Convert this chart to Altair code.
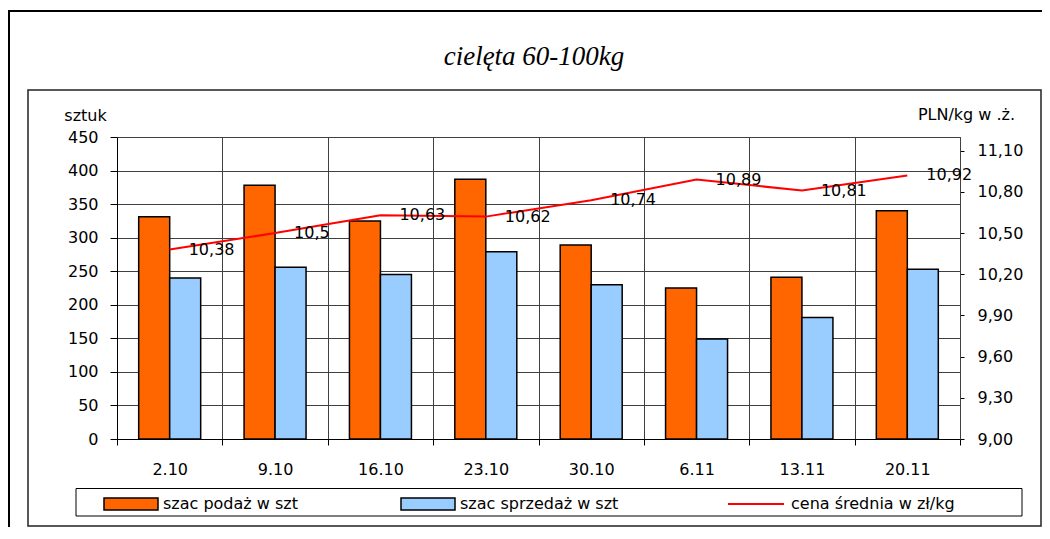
import altair as alt
import pandas as pd

weeks = ["2.10", "9.10", "16.10", "23.10", "30.10", "6.11", "13.11", "20.11"]
supply = [331, 378, 325, 387, 289, 225, 241, 340]
sales = [240, 256, 245, 279, 230, 149, 181, 253]
price = [10.38, 10.5, 10.63, 10.62, 10.74, 10.89, 10.81, 10.92]

left_ticks = [0, 50, 100, 150, 200, 250, 300, 350, 400, 450]
right_ticks = [9.0, 9.3, 9.6, 9.9, 10.2, 10.5, 10.8, 11.1]

s_supply = "szac podaż w szt"
s_sales = "szac sprzedaż w szt"
s_price = "cena średnia w zł/kg"
title_text = "cielęta 60-100kg"

bars_df = pd.DataFrame({
    "week": weeks * 2,
    "series": [s_supply] * len(weeks) + [s_sales] * len(weeks),
    "value": supply + sales,
})
line_df = pd.DataFrame({"week": weeks, "series": [s_price] * len(weeks), "price": price})
one = pd.DataFrame({"k": [0]})

FONT = "DejaVu Sans"

x_enc = alt.X(
    "week:N", sort=weeks,
    scale=alt.Scale(paddingInner=0, paddingOuter=0),
    axis=alt.Axis(title=None, labelAngle=0, tickBand="extent", grid=True,
                  gridColor="#404040", gridWidth=1, domainColor="#000000",
                  tickColor="#000000", tickSize=6, labelPadding=16,
                  labelFont=FONT, labelFontSize=16, labelColor="#000000"),
)

bars = alt.Chart(bars_df).mark_bar(stroke="black", strokeWidth=1.5).encode(
    x=x_enc,
    xOffset=alt.XOffset("series:N", sort=[s_supply, s_sales],
                        scale=alt.Scale(paddingInner=0, paddingOuter=0.7)),
    y=alt.Y("value:Q", scale=alt.Scale(domain=[0, 450], nice=False),
            axis=alt.Axis(values=left_ticks, title="sztuk", titleAngle=0,
                          titleX=-32, titleY=-17, titleAlign="center",
                          titleBaseline="alphabetic", titleFont=FONT,
                          titleFontSize=16, titleFontWeight="normal",
                          titleColor="#000000", grid=True, gridColor="#404040",
                          gridWidth=1, domainColor="#000000", tickColor="#000000",
                          tickSize=7, labelPadding=12, labelFont=FONT,
                          labelFontSize=16, labelColor="#000000")),
    fill=alt.Fill("series:N", sort=[s_supply, s_sales],
                  scale=alt.Scale(domain=[s_supply, s_sales],
                                  range=["#FF6600", "#99CCFF"]),
                  legend=alt.Legend(title=None, orient="none", legendX=-14,
                                    legendY=339, direction="horizontal",
                                    columns=2, columnPadding=100, padding=0,
                                    symbolType="M-1,-0.222H1V0.222H-1Z",
                                    symbolSize=2916, symbolStrokeColor="black",
                                    symbolStrokeWidth=1.5, labelFont=FONT,
                                    labelFontSize=16, labelColor="#000000",
                                    labelOffset=4, labelLimit=400)),
)

right_axis = alt.Axis(
    orient="right", values=right_ticks,
    labelExpr="replace(format(datum.value, '.2f'), '.', ',')",
    domain=True, domainColor="#404040", tickSize=4, tickColor="#000000",
    labelPadding=13, labelAlign="left", grid=False, labelFont=FONT,
    labelFontSize=16, labelColor="#000000", title="PLN/kg w .ż.",
    titleAngle=0, titleX=6, titleY=-18, titleAlign="center",
    titleBaseline="alphabetic", titleFont=FONT, titleFontSize=16,
    titleFontWeight="normal", titleColor="#000000",
)
right_scale = alt.Scale(domain=[9, 11.2], nice=False, zero=False)

line = alt.Chart(line_df).mark_line(strokeWidth=2).encode(
    x=alt.X("week:N", sort=weeks),
    y=alt.Y("price:Q", scale=right_scale, axis=right_axis),
    stroke=alt.Stroke("series:N", scale=alt.Scale(domain=[s_price], range=["#FF0000"]),
                      legend=alt.Legend(title=None, orient="none", legendX=610,
                                        legendY=338, padding=0,
                                        symbolType="M-1,0H1", symbolSize=3136,
                                        symbolStrokeWidth=2, labelFont=FONT,
                                        labelFontSize=16, labelColor="#000000",
                                        labelOffset=6, labelLimit=400)),
)

labels = alt.Chart(line_df).transform_calculate(
    lbl="replace(toString(datum.price), '.', ',')"
).mark_text(align="left", baseline="middle", dx=19, font=FONT, fontSize=16,
            color="#000000").encode(
    x=alt.X("week:N", sort=weeks),
    y=alt.Y("price:Q", scale=right_scale, axis=right_axis),
    text="lbl:N",
)


def box(x1, y1, x2, y2, w, col):
    return alt.Chart(one).mark_rect(fill="white", fillOpacity=0, stroke=col,
                                    strokeWidth=w).encode(
        x=alt.value(x1), x2=alt.value(x2), y=alt.value(y1), y2=alt.value(y2))


outer = box(-108, -126, 960, 420, 2, "#000000")
inner = box(-89, -47, 924, 389, 1.5, "#222222")
legbox = box(-41, 351.5, 905, 379, 1, "#000000")

title = alt.Chart(one).mark_text(
    text=title_text, font="Liberation Serif", fontStyle="italic", fontSize=27,
    align="center", baseline="alphabetic", color="#000000"
).encode(x=alt.value(417), y=alt.value(-72))

price_layer = alt.layer(line, labels).resolve_scale(y="shared")

chart = alt.layer(outer, inner, legbox, title, bars, price_layer).resolve_scale(
    y="independent"
).properties(
    width=843, height=302,
    autosize=alt.AutoSizeParams(type="none"),
    padding={"left": 109, "top": 129, "right": 82, "bottom": 88},
).configure_view(stroke="#808080", strokeWidth=1)

chart.save("out.html", embed_options={"renderer": "svg", "actions": False})
